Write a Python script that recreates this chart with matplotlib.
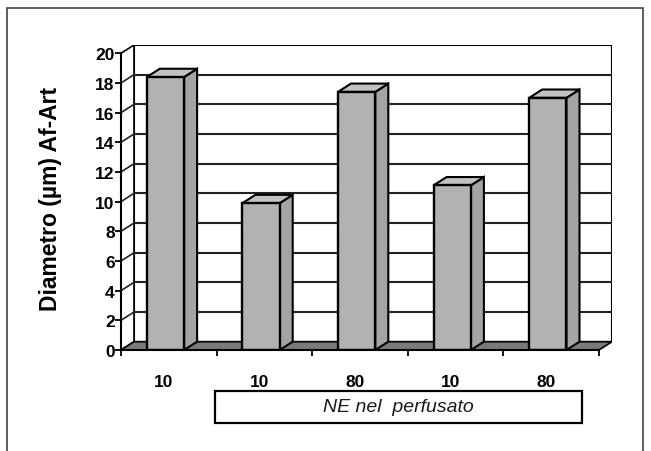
import matplotlib
matplotlib.use("Agg")
from matplotlib import pyplot as plt
from matplotlib.patches import Polygon, Rectangle

plt.rcParams['font.family'] = ['Liberation Sans', 'DejaVu Sans']

# NE concentration per column and measured diameter
categories = ["10", "10", "80", "10", "80"]
diameters = [18.4, 9.9, 17.4, 11.1, 17.0]
y_ticks = list(range(0, 21, 2))
legend_text = "NE nel  perfusato"
y_label = "Diametro (\u00b5m) Af-Art"

# depth of the pseudo-3D box, in data units
ddx = 0.136
ddy = 0.56
ymax = 20
ncat = len(categories)
bar_left = 0.27
bar_w = 0.39

fig = plt.figure(figsize=(6.51, 4.52), dpi=100)
ax = fig.add_axes([121 / 651, 1 - 351 / 452, 491 / 651, 305 / 452])
ax.set_xlim(0, ncat + ddx)
ax.set_ylim(0, ymax + ddy)
ax.patch.set_visible(False)

# back wall and left side wall
ax.add_patch(Rectangle((ddx, ddy), ncat, ymax, facecolor="white",
                       edgecolor="black", lw=1.5, zorder=1))
ax.add_patch(Polygon([(0, 0), (ddx, ddy), (ddx, ymax + ddy), (0, ymax)],
                     closed=True, facecolor="white", edgecolor="black",
                     lw=1.2, zorder=1))

# gridlines on the walls
for g in y_ticks[1:-1]:
    ax.plot([ddx, ncat + ddx], [g + ddy, g + ddy], color="#222222",
            lw=1.5, zorder=1.5, solid_capstyle="butt")
    ax.plot([0, ddx], [g, g + ddy], color="#222222", lw=1.2, zorder=1.5)

# floor
ax.add_patch(Polygon([(0, 0), (ddx, ddy), (ncat + ddx, ddy), (ncat, 0)],
                     closed=True, facecolor="#7a7a7a", edgecolor="black",
                     lw=1.2, zorder=2))

# columns
for i, v in enumerate(diameters):
    x0 = i + bar_left
    x1 = x0 + bar_w
    ax.add_patch(Polygon([(x1, 0), (x1 + ddx, ddy), (x1 + ddx, v + ddy), (x1, v)],
                         closed=True, facecolor="#a4a4a4", edgecolor="black",
                         lw=1.5, zorder=3))
    ax.add_patch(Polygon([(x0, v), (x0 + ddx, v + ddy), (x1 + ddx, v + ddy), (x1, v)],
                         closed=True, facecolor="#c2c2c2", edgecolor="black",
                         lw=1.5, zorder=3))
    ax.add_patch(Rectangle((x0, 0), bar_w, v, facecolor="#b2b2b2",
                           edgecolor="black", lw=1.7, zorder=4))

# front axes
for side in ["top", "right"]:
    ax.spines[side].set_visible(False)
ax.spines["left"].set_bounds(0, ymax)
ax.spines["bottom"].set_bounds(0, ncat)
ax.spines["left"].set_linewidth(1.5)
ax.spines["bottom"].set_linewidth(1.5)
ax.spines["left"].set_zorder(5)
ax.spines["bottom"].set_zorder(5)

ax.set_yticks(y_ticks)
ax.set_yticklabels([str(t) for t in y_ticks], fontsize=12.5, fontweight="bold")
ax.tick_params(axis="y", direction="out", length=4, width=1.3, pad=0.5)

ax.set_xticks(range(ncat + 1))
ax.set_xticklabels([""] * (ncat + 1))
ax.set_xticks([i + 0.45 for i in range(ncat)], minor=True)
ax.set_xticklabels(categories, minor=True, fontsize=12.5, fontweight="bold")
ax.tick_params(axis="x", which="major", direction="out", length=4, width=1.3)
ax.tick_params(axis="x", which="minor", length=0, pad=17)

ax.set_ylabel(y_label, fontsize=16.5, fontweight="bold", labelpad=24)

# category box under the axis
fig.patches.append(Rectangle((215 / 651, 1 - 424 / 452), 367 / 651, 32 / 452,
                             transform=fig.transFigure, facecolor="white",
                             edgecolor="black", lw=1.6))
fig.text(398 / 651, 1 - 408 / 452, legend_text, ha="center", va="center",
         fontsize=14, style="italic", color="#1a1a1a")

# outer frame
fig.patches.append(Rectangle((7 / 651, -0.05), 636 / 651, 1.05 - 9 / 452,
                             transform=fig.transFigure, facecolor="none",
                             edgecolor="#333333", lw=1.1))

fig.savefig("out.png", dpi=100)
